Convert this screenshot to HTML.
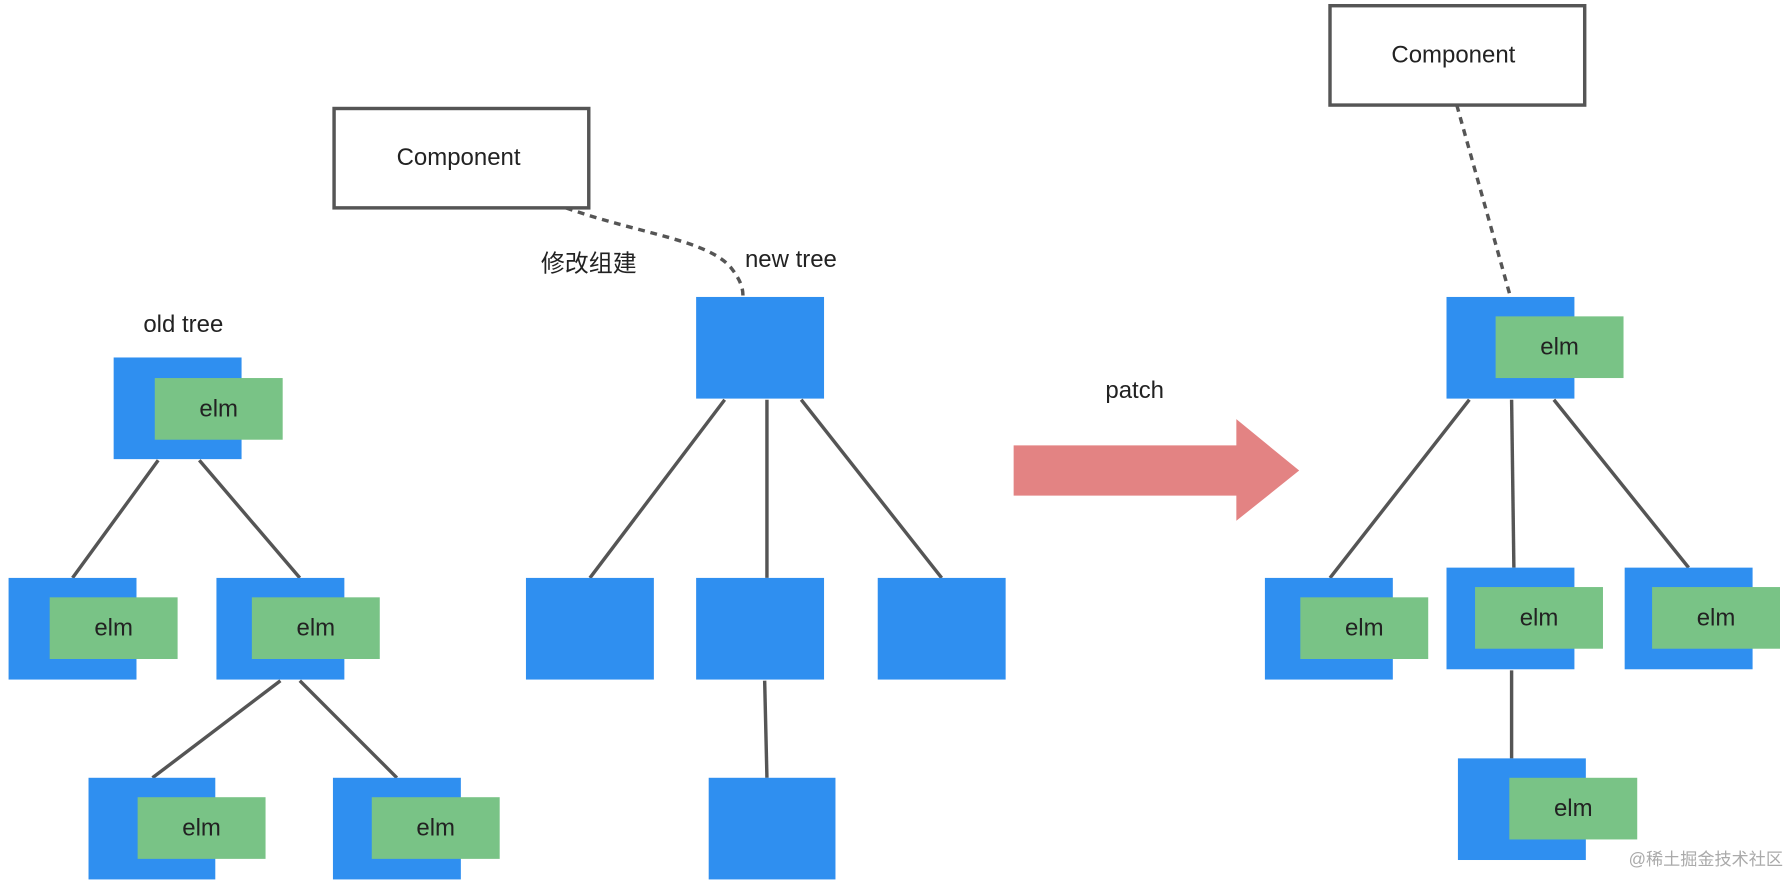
<!DOCTYPE html>
<html><head><meta charset="utf-8"><style>html,body{margin:0;padding:0;background:#fff}svg{display:block}</style></head>
<body>
<svg width="1792" height="884" viewBox="0 0 1568 774" xmlns="http://www.w3.org/2000/svg" font-family="Liberation Sans, Noto Sans CJK SC, sans-serif">
<g fill="none" stroke="#555" stroke-width="3">
<path d="M495,182 C560,205 620,210 640,235 C650,248 650,255 650,260" stroke-dasharray="6,5"/>
<line x1="1275" y1="92" x2="1322" y2="260" stroke-dasharray="6,5"/>
<line x1="138" y1="403" x2="63" y2="506"/><line x1="174" y1="403" x2="262" y2="506"/>
<line x1="245" y1="596" x2="133" y2="681"/><line x1="262" y1="596" x2="347" y2="681"/>
<line x1="634" y1="350" x2="516" y2="506"/><line x1="671" y1="350" x2="671" y2="506"/><line x1="701" y1="350" x2="824" y2="506"/>
<line x1="669" y1="596" x2="671" y2="681"/>
<line x1="1286" y1="350" x2="1164" y2="506"/><line x1="1323" y1="350" x2="1325" y2="497"/><line x1="1360" y1="350" x2="1478" y2="497"/>
<line x1="1323" y1="587" x2="1323" y2="664"/>
</g>
<g fill="#fff" stroke="#555" stroke-width="3">
<rect x="292" y="95" width="223" height="87"/>
<rect x="1164" y="5" width="223" height="87"/>
</g>
<g fill="#2f8ff0">
<rect x="99" y="313" width="112" height="89"/>
<rect x="7" y="506" width="112" height="89"/><rect x="189" y="506" width="112" height="89"/>
<rect x="77" y="681" width="111" height="89"/><rect x="291" y="681" width="112" height="89"/>
<rect x="609" y="260" width="112" height="89"/>
<rect x="460" y="506" width="112" height="89"/><rect x="609" y="506" width="112" height="89"/><rect x="768" y="506" width="112" height="89"/>
<rect x="620" y="681" width="111" height="89"/>
<rect x="1266" y="260" width="112" height="89"/>
<rect x="1107" y="506" width="112" height="89"/><rect x="1266" y="497" width="112" height="89"/><rect x="1422" y="497" width="112" height="89"/>
<rect x="1276" y="664" width="112" height="89"/>
</g>
<g fill="#79c386">
<rect x="135" y="331" width="112" height="54"/>
<rect x="43" y="523" width="112" height="54"/><rect x="220" y="523" width="112" height="54"/>
<rect x="120" y="698" width="112" height="54"/><rect x="325" y="698" width="112" height="54"/>
<rect x="1309" y="277" width="112" height="54"/>
<rect x="1138" y="523" width="112" height="54"/><rect x="1291" y="514" width="112" height="54"/><rect x="1446" y="514" width="112" height="54"/>
<rect x="1321" y="681" width="112" height="54"/>
</g>
<path d="M887,390 H1082 V367 L1137,412 L1082,456 V434 H887 Z" fill="#e38383"/>
<g fill="#222" font-size="21" text-anchor="middle" dominant-baseline="central">
<text x="191" y="358">elm</text>
<text x="99" y="550">elm</text><text x="276" y="550">elm</text>
<text x="176" y="725">elm</text><text x="381" y="725">elm</text>
<text x="1365" y="304">elm</text>
<text x="1194" y="550">elm</text><text x="1347" y="541">elm</text><text x="1502" y="541">elm</text>
<text x="1377" y="708">elm</text>
<text x="401" y="138">Component</text>
<text x="1272" y="48">Component</text>
<text x="160" y="284">old tree</text>
<text x="692" y="227">new tree</text>
<text x="515" y="231">修改组建</text>
<text x="993" y="342">patch</text>
</g>
<text x="1493" y="752" fill="#aaa" font-size="15" text-anchor="middle" dominant-baseline="central">@稀土掘金技术社区</text>
</svg>
</body></html>
